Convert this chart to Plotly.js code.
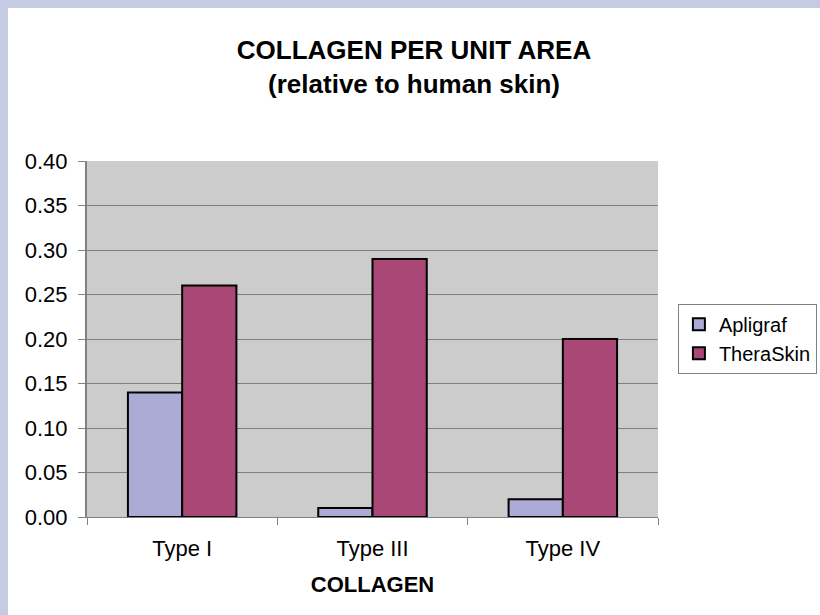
<!DOCTYPE html>
<html>
<head>
<meta charset="utf-8">
<script src="https://cdn.plot.ly/plotly-3.0.1.min.js"></script>
<style>
  html, body { margin: 0; padding: 0; background: #C4CBE3; width: 820px; height: 615px; overflow: hidden; }
  #chart { position: absolute; left: 8px; top: 8px; width: 812px; height: 607px; background: #ffffff; }
</style>
</head>
<body>
<div id="chart"></div>
<script>
const categories = ["Type I", "Type III", "Type IV"];
const apligraf = [0.14, 0.01, 0.02];
const theraskin = [0.26, 0.29, 0.20];
const yTicks = [0, 0.05, 0.10, 0.15, 0.20, 0.25, 0.30, 0.35, 0.40];

const font = "Liberation Sans, Arial, sans-serif";

const traces = [
  { type: "bar", name: "Apligraf", x: categories, y: apligraf,
    marker: { color: "#ABABD6", line: { color: "#000000", width: 2 } } },
  { type: "bar", name: "TheraSkin", x: categories, y: theraskin,
    marker: { color: "#A94877", line: { color: "#000000", width: 2 } } }
];

const layout = {
  width: 812, height: 607,
  paper_bgcolor: "#ffffff",
  plot_bgcolor: "#CCCCCC",
  margin: { l: 79, r: 162, t: 153, b: 98 },
  barmode: "group",
  bargap: 0.43,
  bargroupgap: 0,
  font: { family: font, color: "#000000", size: 22 },
  title: {
    text: "<b>COLLAGEN PER UNIT AREA</b><br><b>(relative to human skin)</b>",
    font: { family: font, size: 26, color: "#000000" },
    x: 0.5, xref: "container", xanchor: "center",
    y: 0.916, yref: "container", yanchor: "top"
  },
  xaxis: {
    title: { text: "<b>COLLAGEN</b>", font: { family: font, size: 22 }, standoff: 16 },
    tickfont: { family: font, size: 22 },
    ticklabelstandoff: 12,
    showline: true, linecolor: "#808080", linewidth: 1,
    ticks: "outside", tickson: "boundaries", ticklen: 7, tickcolor: "#808080",
    showgrid: false, zeroline: false, mirror: false
  },
  yaxis: {
    range: [0, 0.4],
    tickvals: yTicks,
    ticktext: yTicks.map(v => v.toFixed(2)),
    tickfont: { family: font, size: 22 },
    ticklabelstandoff: 6,
    showline: true, linecolor: "#808080", linewidth: 2,
    ticks: "outside", ticklen: 7, tickcolor: "#808080",
    showgrid: true, gridcolor: "#808080", gridwidth: 1,
    zeroline: false
  },
  legend: {
    xref: "container", yref: "container",
    x: 0.825, xanchor: "left", y: 0.455, yanchor: "middle",
    bgcolor: "#ffffff", bordercolor: "#808080", borderwidth: 1,
    font: { family: font, size: 20 },
    itemwidth: 30,
    tracegroupgap: 0
  },
  showlegend: true
};

Plotly.newPlot("chart", traces, layout, { displayModeBar: false, staticPlot: true });
</script>
</body>
</html>
